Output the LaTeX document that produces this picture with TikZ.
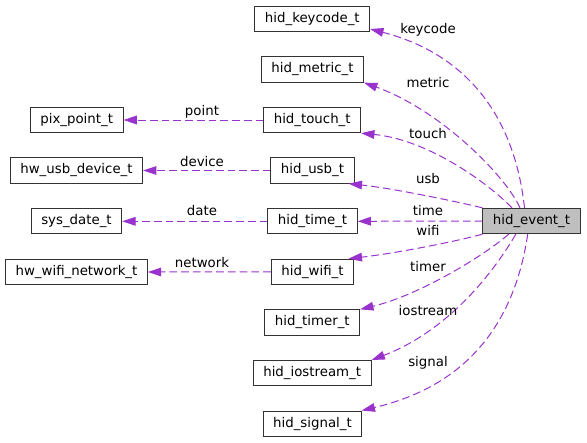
\documentclass[tikz,border=0pt]{standalone}
\usepackage{fontspec}
\setmainfont{DejaVu Sans}
\usetikzlibrary{arrows.meta}
\definecolor{edgecol}{HTML}{9A32CD}
\definecolor{boxgray}{HTML}{BFBFBF}
\begin{document}
\begin{tikzpicture}[x=0.75pt, y=-0.75pt,
		typebox/.style = {draw=black!80, line width=0.75pt, inner xsep=7.5pt, inner ysep=0pt,
			minimum height=19pt, text height=7.6pt, text depth=2.4pt, font=\fontsize{10}{12}\selectfont},
		lbl/.style = {inner sep=0pt, text height=7.6pt, text depth=2.4pt, font=\fontsize{10}{12}\selectfont},
		member/.style = {draw=edgecol, line width=0.75pt, dash pattern=on 5.8pt off 3pt,
			-{Triangle[length=10pt, width=6.5pt]}}]
			\useasboundingbox (0,0) rectangle (587,443);
			
			\node[typebox, fill=boxgray] (event) at (531.5,221) {hid\_event\_t};
			
			\node[typebox] (keycode) at (312.3,18.8) {hid\_keycode\_t};
			\node[typebox] (metric) at (312.5,69.5) {hid\_metric\_t};
			\node[typebox] (touch) at (312.2,120) {hid\_touch\_t};
			\node[typebox] (usb) at (312.5,170.5) {hid\_usb\_t};
			\node[typebox] (time) at (312.5,221.3) {hid\_time\_t};
			\node[typebox] (wifi) at (312.5,271.8) {hid\_wifi\_t};
			\node[typebox] (timer) at (312.3,322.5) {hid\_timer\_t};
			\node[typebox] (iostream) at (312.2,373.2) {hid\_iostream\_t};
			\node[typebox] (signal) at (312.5,423.7) {hid\_signal\_t};
			
			\node[typebox] (point) at (76.7,120) {pix\_point\_t};
			\node[typebox] (usbdev) at (76.5,170.5) {hw\_usb\_device\_t};
			\node[typebox] (date) at (76.5,221.3) {sys\_date\_t};
			\node[typebox] (network) at (76.5,272) {hw\_wifi\_network\_t};
			
			% members of hid_event_t
			\draw[member] (event.118) .. controls (515,120) and (470,55) .. (keycode.-10);
			\draw[member] (event.131) .. controls (505,175) and (440,110) .. (metric.south east);
			\draw[member] (event.146) .. controls (490,185) and (430,140) .. (touch.south east);
			\draw[member] (event.165) .. controls (450,200) and (390,188) .. (usb.-20);
			\draw[member] (event.west) -- (time.east);
			\draw[member] (event.195) .. controls (450,243) and (390,254) .. (wifi.20);
			\draw[member] (event.210) .. controls (485,255) and (420,295) .. (timer.north east);
			\draw[member] (event.220) .. controls (495,270) and (450,330) .. (iostream.north east);
			\draw[member] (event.254) .. controls (515,320) and (470,385) .. (signal.15);
			
			% members of the inner types
			\draw[member] (touch.west) -- (point.east);
			\draw[member] (usb.west) -- (usbdev.east);
			\draw[member] (time.west) -- (date.east);
			\draw[member] (wifi.west) -- (network.east);
			
			\node[lbl] (lkeycode) at (428,30) {keycode};
			\node[lbl] (lmetric) at (428,84) {metric};
			\node[lbl] (ltouch) at (428,135.5) {touch};
			\node[lbl] (lusb) at (428,180) {usb};
			\node[lbl] (ltime) at (428,212.3) {time};
			\node[lbl] (lwifi) at (428,232) {wifi};
			\node[lbl] (ltimer) at (428,267.7) {timer};
			\node[lbl] (liostream) at (428,311.7) {iostream};
			\node[lbl] (lsignal) at (428,362.7) {signal};
			
			\node[lbl] (lpoint) at (202,111.7) {point};
			\node[lbl] (ldevice) at (202,162.7) {device};
			\node[lbl] (ldate) at (202,212.5) {date};
			\node[lbl] (lnetwork) at (202,264) {network};
		\end{tikzpicture}
\end{document}
